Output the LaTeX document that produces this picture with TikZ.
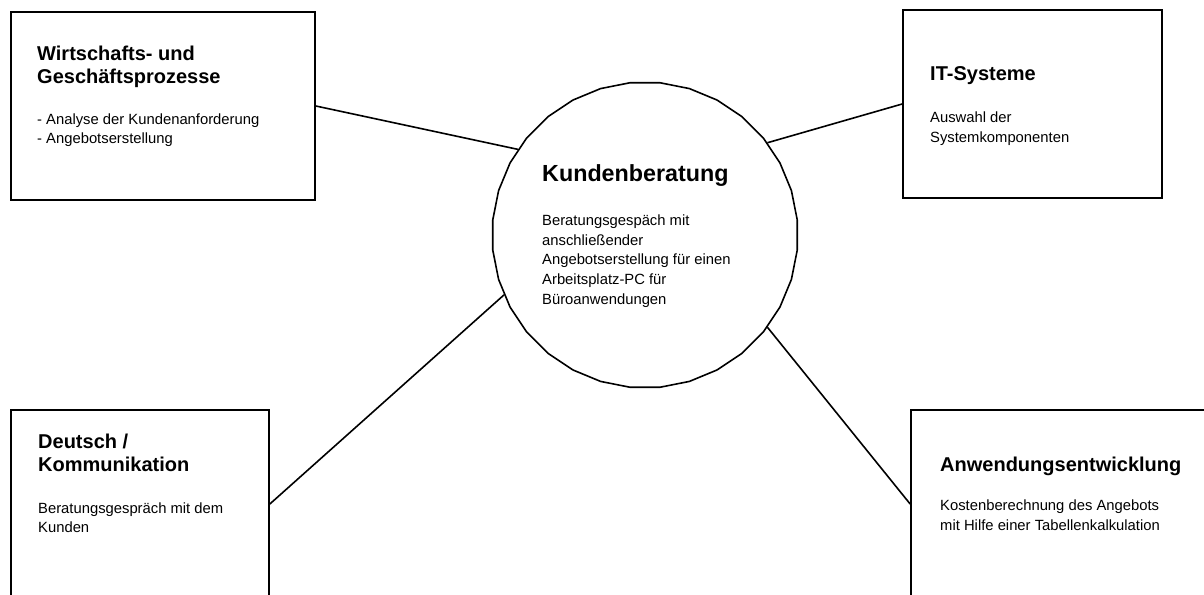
\documentclass[tikz,border=0pt]{standalone}
\usepackage{fontspec}
\setmainfont{Liberation Sans}
\usetikzlibrary{shapes.geometric}
\newcommand\blk[1]{\begin{tabular}[t]{@{}l@{}}#1\end{tabular}}
\tikzset{
  box/.style={draw, line width=1.7pt, rectangle, minimum height=188pt, inner sep=0pt},
  kreis/.style={draw, line width=1.6pt, regular polygon, regular polygon sides=32, minimum size=306pt, inner sep=0pt},
  conn/.style={line width=1.6pt},
  ttl/.style={anchor=base west, inner sep=0pt, font=\fontsize{20}{23.5}\selectfont\bfseries},
  bigttl/.style={anchor=base west, inner sep=0pt, font=\fontsize{23.3}{28}\selectfont\bfseries},
  body/.style={anchor=base west, inner sep=0pt, font=\fontsize{14.8}{19.6}\selectfont},
}
\begin{document}
\begin{tikzpicture}[x=1pt,y=-1pt]
\useasboundingbox (0,0) rectangle (1204,594);
\clip (0,0) rectangle (1204,594);
\fill[white] (0,0) rectangle (1204,594);
% boxes
\node[box, minimum width=304pt] (b1) at (163,106) {};
\node[box, minimum width=259pt] (b2) at (1032.5,104) {};
\node[box, minimum width=258pt] (b3) at (140,504) {};
\node[box, minimum width=304pt] (b4) at (1063,504) {};
% central circle
\node[kreis] (k) at (645,235) {};
% connectors
\draw[conn] (b1.east) -- (k.146);
\draw[conn] (b2.west) -- (k.37);
\draw[conn] (b3.east) -- (k.203);
\draw[conn] (b4.west) -- (k.323);
% texts
\node[ttl] (t1) at (37,60) {\blk{Wirtschafts- und\\Geschäftsprozesse}};
\node[body] (s1) at (37,124) {\blk{- Analyse der Kundenanforderung\\- Angebotserstellung}};
\node[ttl] (t2) at (930,80) {\blk{IT-Systeme}};
\node[body] (s2) at (930,122.7) {\blk{Auswahl der\\Systemkomponenten}};
\node[bigttl] (tk) at (542,181) {\blk{Kundenberatung}};
\node[body] (sk) at (542,225.7) {\blk{Beratungsgespäch mit\\anschließender\\Angebotserstellung für einen\\Arbeitsplatz-PC für\\Büroanwendungen}};
\node[ttl] (t3) at (38,448.3) {\blk{Deutsch /\\Kommunikation}};
\node[body] (s3) at (38,513.3) {\blk{Beratungsgespräch mit dem\\Kunden}};
\node[ttl] (t4) at (940,471.7) {\blk{Anwendungsentwicklung}};
\node[body] (s4) at (940,510.7) {\blk{Kostenberechnung des Angebots\\mit Hilfe einer Tabellenkalkulation}};
\end{tikzpicture}
\end{document}
